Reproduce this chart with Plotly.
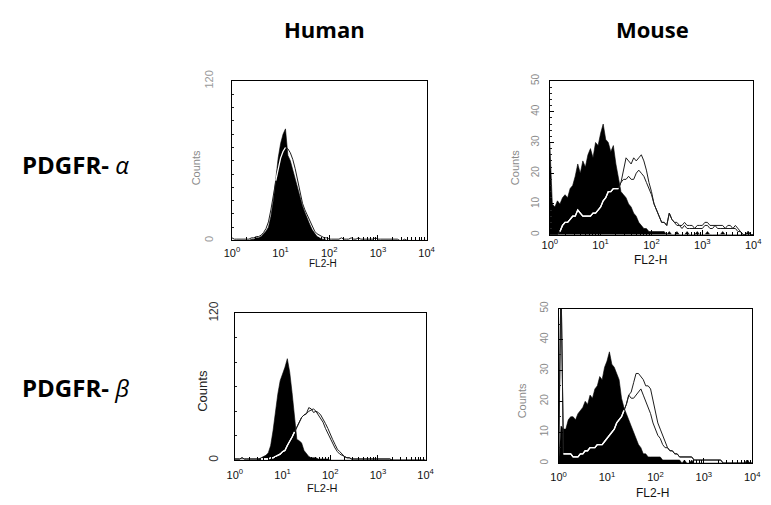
import plotly.graph_objects as go

# bin positions (log10 of FL2-H)
LOG_X = [0.00, 0.05, 0.10, 0.15, 0.20, 0.25, 0.30, 0.35, 0.40, 0.45,
         0.50, 0.55, 0.60, 0.65, 0.70, 0.75, 0.80, 0.85, 0.90, 0.95,
         1.00, 1.05, 1.10, 1.15, 1.20, 1.25, 1.30, 1.35, 1.40, 1.45,
         1.50, 1.55, 1.60, 1.65, 1.70, 1.75, 1.80, 1.85, 1.90, 1.95,
         2.00, 2.05, 2.10, 2.15, 2.20, 2.25, 2.30, 2.35, 2.40, 2.45,
         2.50, 2.55, 2.60, 2.65, 2.70, 2.75, 2.80, 2.85, 2.90, 2.95,
         3.00, 3.05, 3.10, 3.15, 3.20, 3.25, 3.30, 3.35, 3.40, 3.45,
         3.50, 3.55, 3.60, 3.65, 3.70, 3.75, 3.80, 3.85, 3.90, 3.95,
         4.00]

X_TICK_VALS = [1, 10, 100, 1000, 10000]
X_TICK_TEXT = ["10<sup>0</sup>", "10<sup>1</sup>", "10<sup>2</sup>", "10<sup>3</sup>", "10<sup>4</sup>"]

# Human PDGFR-alpha
HA_CTRL = [0, 0, 0, 0, 0, 0, 0, 0, 1, 1,
           2, 2, 3, 5, 7, 10, 18, 30, 46, 62,
           73, 80, 84, 64, 60, 53, 46, 38, 32, 26,
           21, 16, 12, 8, 5, 3, 2, 1, 1, 0,
           0, 0, 0, 0, 0, 0, 0, 0, 0, 0,
           0, 0, 0, 0, 0, 0, 0, 0, 0, 0,
           0, 0, 0, 0, 0, 0, 0, 0, 0, 0,
           0, 0, 0, 0, 0, 0, 0, 0, 0, 0,
           0]
HA_STAIN = [2, 1, 1, 1, 1, 1, 1, 1, 2, 2,
            3, 3, 4, 6, 9, 14, 23, 34, 45, 55,
            62, 67, 70, 69, 66, 61, 54, 45, 36, 28,
            23, 19, 14, 10, 7, 5, 4, 3, 2, 2,
            1, 1, 1, 1, 1, 2, 1, 1, 1, 2,
            1, 1, 2, 1, 1, 1, 1, 1, 1, 2,
            1, 1, 1, 1, 1, 1, 1, 1, 1, 0,
            0, 1, 0, 0, 0, 0, 0, 0, 0, 0,
            0]

# Mouse PDGFR-alpha
MA_CTRL = [30, 10, 9, 11, 10, 12, 13, 12, 15, 16,
           19, 23, 20, 24, 22, 26, 28, 25, 30, 29,
           33, 36, 31, 30, 27, 29, 23, 18, 14, 13,
           12, 10, 9, 7, 6, 4, 3, 2, 2, 1,
           1, 1, 1, 1, 1, 1, 0, 1, 0, 0,
           1, 0, 0, 0, 1, 0, 0, 0, 1, 0,
           0, 0, 1, 0, 0, 0, 0, 0, 1, 0,
           0, 0, 0, 0, 0, 0, 0, 0, 1, 0,
           0]
MA_STAIN1 = [0, 0, 0, 0, 1, 3, 4, 4, 5, 6,
             6, 8, 7, 6, 6, 6, 6, 7, 7, 8,
             9, 11, 12, 14, 14, 15, 15, 15, 17, 21,
             25, 24, 23, 25, 24, 25, 26, 24, 21, 17,
             14, 10, 8, 6, 4, 4, 3, 7, 5, 4,
             4, 3, 3, 4, 3, 3, 3, 2, 3, 3,
             3, 4, 4, 3, 3, 3, 3, 3, 3, 2,
             3, 3, 2, 3, 2, 1, 0, 0, 1, 0,
             0]
MA_STAIN2 = [0, 0, 0, 0, 1, 3, 4, 4, 5, 6,
             6, 8, 7, 6, 6, 6, 6, 7, 7, 8,
             9, 11, 12, 14, 14, 15, 15, 15, 17, 18,
             18, 19, 18, 18, 20, 21, 20, 19, 17, 15,
             13, 10, 8, 6, 4, 4, 3, 7, 5, 4,
             3, 3, 2, 3, 2, 2, 2, 2, 2, 2,
             2, 3, 3, 2, 2, 3, 2, 2, 2, 2,
             2, 2, 2, 2, 1, 1, 0, 0, 1, 0,
             0]

# Human PDGFR-beta
HB_CTRL = [0, 0, 0, 0, 0, 0, 0, 0, 0, 0,
           1, 2, 3, 4, 6, 12, 24, 40, 54, 65,
           70, 76, 83, 72, 55, 36, 17, 16, 14, 8,
           5, 3, 2, 2, 2, 1, 1, 1, 1, 1,
           0, 0, 0, 0, 0, 0, 0, 0, 0, 0,
           0, 0, 0, 0, 0, 0, 0, 0, 0, 0,
           0, 0, 0, 0, 0, 0, 0, 0, 0, 0,
           0, 0, 0, 0, 0, 0, 0, 0, 0, 0,
           0]
HB_STAIN1 = [1, 1, 1, 2, 1, 1, 1, 1, 1, 1,
             1, 1, 1, 1, 1, 2, 2, 3, 4, 5,
             7, 8, 12, 15, 19, 23, 27, 31, 35, 37,
             38, 43, 42, 39, 40, 37, 34, 31, 26, 22,
             17, 13, 10, 7, 5, 4, 3, 2, 2, 1,
             1, 1, 1, 1, 1, 1, 1, 1, 1, 1,
             1, 1, 1, 1, 1, 1, 0, 0, 0, 0,
             0, 0, 0, 0, 0, 0, 0, 0, 0, 0,
             0]
HB_STAIN2 = [1, 1, 1, 2, 1, 1, 1, 1, 1, 1,
             1, 1, 1, 1, 1, 2, 2, 3, 4, 5,
             7, 8, 12, 15, 19, 23, 27, 31, 35, 37,
             38, 40, 41, 42, 40, 39, 37, 34, 30, 26,
             21, 17, 13, 9, 7, 5, 3, 2, 2, 1,
             1, 1, 1, 1, 1, 1, 1, 1, 1, 1,
             1, 1, 1, 1, 1, 1, 0, 0, 0, 0,
             0, 0, 0, 0, 0, 0, 0, 0, 0, 0,
             0]

# Mouse PDGFR-beta
MB_CTRL = [0, 12, 11, 11, 14, 15, 15, 14, 16, 17,
           18, 20, 19, 22, 21, 24, 25, 28, 27, 31,
           33, 36, 32, 31, 29, 27, 21, 18, 16, 14,
           12, 10, 8, 6, 5, 3, 3, 2, 2, 2,
           2, 2, 2, 1, 1, 1, 1, 1, 1, 1,
           1, 0, 1, 0, 0, 1, 0, 0, 0, 0,
           0, 0, 0, 0, 0, 0, 0, 0, 0, 0,
           0, 0, 0, 0, 0, 0, 0, 0, 1, 0,
           0]
MB_STAIN1 = [0, 60, 3, 3, 3, 3, 2, 2, 2, 3,
             3, 4, 4, 5, 5, 5, 6, 6, 6, 7,
             8, 9, 10, 11, 13, 14, 15, 17, 19, 22,
             23, 26, 29, 29, 28, 27, 25, 25, 24, 20,
             16, 13, 11, 9, 7, 5, 4, 4, 3, 3,
             2, 2, 2, 2, 2, 2, 1, 1, 1, 1,
             1, 1, 1, 1, 1, 1, 1, 1, 0, 0,
             0, 0, 0, 0, 0, 0, 0, 0, 1, 0,
             0]
MB_STAIN2 = [0, 60, 3, 3, 3, 3, 2, 2, 2, 3,
             3, 4, 4, 5, 5, 5, 6, 6, 6, 7,
             8, 9, 10, 11, 13, 14, 15, 17, 19, 22,
             21, 21, 22, 23, 24, 22, 20, 18, 16, 13,
             11, 9, 8, 6, 5, 5, 4, 4, 3, 3,
             2, 2, 2, 2, 2, 2, 1, 1, 1, 1,
             1, 1, 1, 1, 1, 1, 1, 1, 0, 0,
             0, 0, 0, 0, 0, 0, 0, 0, 1, 0,
             0]

COL_TITLES = ["Human", "Mouse"]
ROW_TITLES = ["<b>PDGFR- </b><i>α</i>", "<b>PDGFR- </b><i>β</i>"]

W, H = 771, 505
X = [10 ** v for v in LOG_X]


def px_x(p):
    return p / W


def px_y(p):
    return 1 - p / H


panels = [
    dict(ctrl=HA_CTRL, stains=[HA_STAIN], box=(229, 428, 71, 235), yr=120,
         ytv=[0, 120], ymin=10, ycol="#9a9a9a", tfs=11, yfs=11, stand_x=2, stand_y=13),
    dict(ctrl=MA_CTRL, stains=[MA_STAIN1, MA_STAIN2], box=(554, 762, 71, 229), yr=50,
         ytv=[0, 10, 20, 30, 40, 50], ymin=2, ycol="#8a8a8a", tfs=11, yfs=10, stand_x=0, stand_y=6),
    dict(ctrl=HB_CTRL, stains=[HB_STAIN1, HB_STAIN2], box=(232, 427, 310, 461), yr=120,
         ytv=[0, 120], ymin=20, ycol="#333333", tfs=11, yfs=12, stand_x=4, stand_y=11),
    dict(ctrl=MB_CTRL, stains=[MB_STAIN1, MB_STAIN2], box=(563, 761, 305, 464), yr=50,
         ytv=[0, 10, 20, 30, 40, 50], ymin=5, ycol="#8a8a8a", tfs=11, yfs=10, stand_x=4, stand_y=5),
]

fig = go.Figure()
layout = {}
minor_x = [m * 10 ** d for d in range(4) for m in range(2, 10)]

for i, p in enumerate(panels):
    n = "" if i == 0 else str(i + 1)
    xa, ya = "x" + n, "y" + n
    x0, x1, y0, y1 = p["box"]
    fig.add_trace(go.Scatter(x=X, y=p["ctrl"], xaxis=xa, yaxis=ya, mode="lines",
                             line=dict(color="black", width=0.6), fill="tozeroy",
                             fillcolor="black", hoverinfo="skip", showlegend=False))
    for s in p["stains"]:
        fig.add_trace(go.Scatter(x=X, y=s, xaxis=xa, yaxis=ya, mode="lines",
                                 line=dict(color="#1e1e1e", width=1.0),
                                 hoverinfo="skip", showlegend=False))
    for s in p["stains"]:
        wy = [v if (v < c and v > 0) else None for v, c in zip(s, p["ctrl"])]
        fig.add_trace(go.Scatter(x=X, y=wy, xaxis=xa, yaxis=ya, mode="lines",
                                 line=dict(color="white", width=1.3),
                                 hoverinfo="skip", showlegend=False))
    layout["xaxis" + n] = dict(
        domain=[px_x(x0), px_x(x1)], anchor=ya, type="log", range=[0, 4],
        tickmode="array", tickvals=X_TICK_VALS, ticktext=X_TICK_TEXT,
        ticks="inside", ticklen=5, tickwidth=1, tickcolor="black",
        minor=dict(tickmode="array", tickvals=minor_x, ticks="inside", ticklen=3,
                   tickwidth=1, tickcolor="black", showgrid=False),
        showline=True, linecolor="black", linewidth=1.2, mirror=True,
        showgrid=False, zeroline=False,
        tickfont=dict(family="Liberation Sans", size=p["tfs"], color="#111"),
        ticklabelstandoff=p["stand_x"], fixedrange=True)
    layout["yaxis" + n] = dict(
        domain=[px_y(y1), px_y(y0)], anchor=xa, range=[0, p["yr"]],
        tickmode="array", tickvals=p["ytv"], tickangle=-90,
        ticks="inside", ticklen=4, tickwidth=1, tickcolor="black",
        minor=dict(dtick=p["ymin"], ticks="inside", ticklen=2, tickwidth=1,
                   tickcolor="#222", showgrid=False),
        showline=True, linecolor="black", linewidth=1.2, mirror=True,
        showgrid=False, zeroline=False,
        tickfont=dict(family="Liberation Sans", size=p["yfs"], color=p["ycol"]),
        ticklabelstandoff=p["stand_y"], fixedrange=True)

annots = []
# column titles
for t, cx in zip(COL_TITLES, [324, 659]):
    annots.append(dict(text="<b>" + t + "</b>", x=px_x(cx), y=px_y(17), xref="paper", yref="paper",
                       xanchor="center", yanchor="middle", showarrow=False,
                       font=dict(family="Open Sans", size=22, color="black")))
# row titles
for t, cy in zip(ROW_TITLES, [157, 386]):
    annots.append(dict(text=t, x=px_x(69), y=px_y(cy), xref="paper", yref="paper",
                       xanchor="center", yanchor="middle", showarrow=False,
                       font=dict(family="Open Sans", size=24, color="black")))
# axis titles
for (cx, cy, col, fs) in [(192, 160, "#8a8a8a", 11), (518, 160, "#8a8a8a", 11),
                          (199, 390, "#222222", 13), (525, 400, "#8a8a8a", 11)]:
    annots.append(dict(text="Counts", x=px_x(cx), y=px_y(cy), xref="paper", yref="paper",
                       xanchor="center", yanchor="middle", showarrow=False, textangle=-90,
                       font=dict(family="Liberation Sans", size=fs, color=col)))
for (cx, cy, fs) in [(322, 259, 10), (657, 255, 12), (322, 490, 11), (659, 495, 12)]:
    annots.append(dict(text="FL2-H", x=px_x(cx), y=px_y(cy), xref="paper", yref="paper",
                       xanchor="center", yanchor="middle", showarrow=False,
                       font=dict(family="Liberation Sans", size=fs, color="#111")))

fig.update_layout(width=W, height=H, margin=dict(l=0, r=0, t=0, b=0),
                  paper_bgcolor="white", plot_bgcolor="white",
                  annotations=annots, showlegend=False, **layout)

fig.write_html("out.html", config={"displayModeBar": False},
               post_script="document.body.style.margin='0px';document.body.style.overflow='hidden';")
